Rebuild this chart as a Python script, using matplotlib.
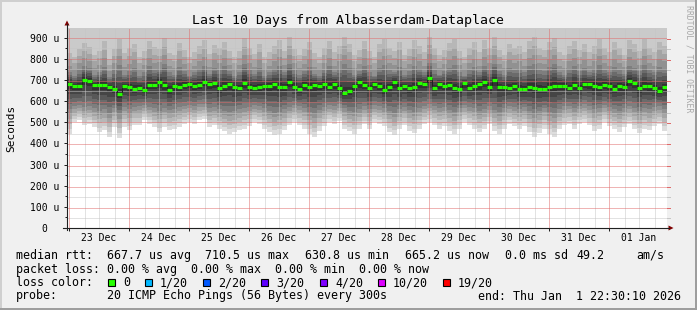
import numpy as np
import matplotlib
matplotlib.use('Agg')
import matplotlib.pyplot as plt
from matplotlib.patches import Rectangle, Polygon

# ---------------------------- data ---------------------------- #
# one column every 2 hours, values in microseconds (u)

median = [680, 673, 670, 700, 695, 675, 677, 675, 668, 655, 631, 670, 665, 655, 662,
          650, 676, 678, 690, 675, 652, 670, 668, 675, 680, 672, 676, 690, 680, 685,
          660, 672, 680, 666, 663, 685, 665, 660, 664, 673, 673, 680, 668, 668, 688,
          668, 655, 676, 666, 675, 673, 680, 668, 680, 660, 640, 645, 670, 688, 678,
          660, 680, 670, 652, 665, 690, 660, 670, 660, 668, 685, 682, 710.5, 660, 680,
          673, 674, 660, 655, 683, 662, 670, 680, 690, 668, 700, 668, 664, 660, 672,
          658, 655, 665, 660, 658, 655, 668, 672, 672, 673, 660, 676, 660, 680, 680,
          672, 665, 675, 672, 655, 670, 668, 695, 685, 660, 672, 672, 663, 645, 665.2]

smoke_min = [445, 500, 508, 485, 492, 477, 453, 461, 429, 477, 425, 477, 461, 485, 485,
             508, 492, 477, 453, 477, 461, 469, 477, 492, 500, 492, 508, 516, 477, 485,
             470, 460, 445, 453, 461, 470, 480, 500, 492, 470, 455, 440, 445, 462, 485,
             500, 485, 470, 445, 430, 460, 480, 500, 490, 505, 470, 460, 445, 470, 490,
             470, 500, 492, 480, 455, 440, 470, 485, 460, 450, 470, 492, 500, 485, 470,
             480, 460, 445, 470, 500, 485, 470, 455, 470, 490, 460, 445, 470, 492, 480,
             470, 480, 455, 430, 450, 470, 445, 430, 470, 485, 490, 470, 492, 500, 485,
             460, 470, 500, 480, 470, 455, 475, 490, 470, 450, 470, 465, 480, 490, 460]

smoke_lo = [560, 575, 580, 570, 575, 565, 555, 560, 545, 565, 540, 570, 560, 572, 575,
            580, 572, 565, 555, 568, 558, 562, 570, 578, 582, 575, 585, 588, 565, 570,
            560, 555, 548, 552, 560, 565, 570, 580, 575, 565, 555, 545, 550, 560, 572,
            582, 575, 565, 550, 540, 558, 570, 580, 575, 585, 565, 555, 548, 562, 575,
            562, 580, 575, 568, 552, 545, 562, 572, 558, 550, 565, 578, 585, 575, 565,
            570, 558, 548, 565, 582, 572, 565, 552, 562, 575, 558, 548, 565, 578, 570,
            562, 570, 555, 540, 552, 565, 548, 540, 562, 575, 578, 565, 578, 585, 575,
            560, 565, 582, 570, 562, 555, 568, 578, 565, 552, 565, 560, 570, 575, 560]

smoke_hi = [735, 720, 745, 765, 755, 725, 735, 760, 715, 745, 770, 725, 740, 755, 720,
            735, 765, 745, 750, 775, 735, 725, 760, 740, 720, 735, 750, 765, 730, 755,
            745, 765, 740, 720, 735, 775, 745, 730, 755, 720, 735, 750, 765, 735, 775,
            745, 725, 740, 760, 730, 720, 745, 765, 735, 750, 775, 755, 725, 740, 765,
            735, 720, 755, 770, 745, 735, 760, 725, 740, 765, 750, 735, 780, 745, 725,
            740, 755, 770, 735, 720, 745, 760, 735, 765, 745, 775, 740, 725, 755, 745,
            750, 735, 765, 775, 745, 740, 760, 775, 735, 725, 750, 765, 740, 755, 735,
            750, 770, 745, 735, 760, 745, 730, 765, 755, 740, 770, 745, 735, 760, 750]

smoke_top = [840, 820, 860, 890, 870, 830, 850, 900, 810, 860, 910, 840, 865, 885, 820,
             850, 900, 870, 860, 915, 840, 830, 890, 855, 820, 845, 875, 905, 835, 880,
             865, 895, 850, 820, 850, 915, 865, 835, 885, 820, 845, 875, 905, 850, 920,
             860, 830, 860, 895, 840, 820, 865, 900, 845, 875, 920, 885, 830, 855, 900,
             850, 820, 885, 910, 865, 850, 895, 830, 860, 905, 875, 845, 920, 865, 830,
             855, 890, 910, 850, 820, 865, 895, 845, 905, 865, 920, 855, 830, 885, 865,
             875, 845, 900, 920, 865, 855, 895, 915, 845, 830, 875, 900, 855, 885, 845,
             875, 910, 865, 845, 895, 865, 830, 905, 885, 850, 910, 865, 845, 895, 875]

day_labels = ['23 Dec', '24 Dec', '25 Dec', '26 Dec', '27 Dec',
              '28 Dec', '29 Dec', '30 Dec', '31 Dec', '01 Jan']
y_ticks = [0, 100, 200, 300, 400, 500, 600, 700, 800, 900]
y_labels = ['0  ', '100 u', '200 u', '300 u', '400 u',
            '500 u', '600 u', '700 u', '800 u', '900 u']

loss_labels = ['0', '1/20', '2/20', '3/20', '4/20', '10/20', '19/20']
loss_colors = ['#26ff00', '#00b8ff', '#0059ff', '#5e00ff', '#7e00ff', '#dd00ff', '#ff0000']

# ---------------------------- style ---------------------------- #
W, H = 697, 310
MONO = 'DejaVu Sans Mono'
BACK = '#f0f0f0'
GRID = '#c6c6c6'
MGRID = '#e06a6a'
ARROW = '#7f0000'
YMAX = 945.0
HOURS = 240.0
MIDNIGHT0 = 0.6      # first midnight (23 Dec 00:00), hours from left edge
X0, X1, Y0, Y1 = 67, 667, 28, 228   # plot area in pixels (from top-left)

plt.rcParams['font.family'] = MONO

fig = plt.figure(figsize=(W / 100, H / 100), dpi=100)
fig.patch.set_facecolor(BACK)

ax = fig.add_axes([X0 / W, (H - Y1) / H, (X1 - X0) / W, (Y1 - Y0) / H])
ax.set_facecolor('white')
ax.set_xlim(0, HOURS)
ax.set_ylim(0, YMAX)
for s in ax.spines.values():
    s.set_visible(False)

ncol = len(median)
step = HOURS / ncol

# ---- smoke: grey shades by rank of the pings around the median ----
nrow = Y1 - Y0
yc = (np.arange(nrow) + 0.5) * YMAX / nrow
img = np.ones((nrow, ncol, 3))
for k in range(ncol):
    anchors = [smoke_min[k], smoke_lo[k], median[k], smoke_hi[k], smoke_top[k]]
    r = np.interp(yc, anchors, [0.0, 0.25, 0.5, 0.75, 0.92])
    band = np.minimum(np.floor(np.minimum(r, 1 - r) * 20) + 1, 10)
    grey = (np.floor(190 / 10 * (10 - band)) + 50) / 255.0
    grey[yc < smoke_min[k]] = 1.0
    img[:, k, :] = grey[:, None]
ax.imshow(img, extent=(0, HOURS, 0, YMAX), origin='lower', aspect='auto',
          interpolation='nearest', zorder=1)


# ---- dotted grid, snapped to pixel centres ----
def snap_y(v):
    row = round(Y1 - v * (Y1 - Y0) / YMAX)
    return (Y1 - (row + 0.5)) * YMAX / (Y1 - Y0)


def snap_x(h):
    col = round(X0 + h * (X1 - X0) / HOURS)
    return (col + 0.5 - X0) * HOURS / (X1 - X0)


for v in range(50, 950, 50):
    major = v % 100 == 0
    ax.axhline(snap_y(v), color=MGRID if major else GRID, lw=0.72, dashes=(1, 1),
               zorder=2.5 if major else 2)
for j in range(40):
    major = j % 4 == 0
    ax.axvline(snap_x(MIDNIGHT0 + 6 * j), color=MGRID if major else GRID, lw=0.72,
               dashes=(1, 1), zorder=2.5 if major else 2)

# ---- median line ----
x_edges = np.arange(ncol + 1) * step
ax.step(x_edges, np.append(median, median[-1]), where='post',
        color='#202020', lw=0.72, zorder=3)
ax.hlines(median, x_edges[:-1], x_edges[1:], colors=loss_colors[0],
          lw=2.3, zorder=4)

# ---- ticks ----
ax.set_yticks(y_ticks, labels=y_labels)
ax.set_yticks(np.arange(50, 950, 100), minor=True)
ax.tick_params(axis='y', which='major', direction='out', length=2.2, width=0.72,
               color='#202020', pad=3.2, labelsize=7)
ax.tick_params(axis='y', which='minor', direction='out', length=1.2, width=0.72,
               color='#202020')

ax.set_xticks([MIDNIGHT0 + 24 * i for i in range(10)], labels=[''] * 10)
ax.set_xticks([MIDNIGHT0 + 12 + 24 * i for i in range(10)], labels=day_labels,
              minor=True)
ax.tick_params(axis='x', which='major', direction='out', length=2.2, width=0.72,
               color='#202020')
ax.tick_params(axis='x', which='minor', length=0, pad=3.6, labelsize=7)

# ---- overlay in pixel coordinates for frame, arrows and legend ----
ov = fig.add_axes([0, 0, 1, 1], zorder=5)
ov.set_xlim(0, W)
ov.set_ylim(H, 0)
ov.axis('off')
ov.patch.set_visible(False)

ov.add_patch(Rectangle((0, 0), W, 2, color='#cfcfcf', lw=0))
ov.add_patch(Rectangle((0, 0), 2, H, color='#cfcfcf', lw=0))
ov.add_patch(Rectangle((0, H - 2), W, 2, color='#9e9e9e', lw=0))
ov.add_patch(Rectangle((W - 2, 0), 2, H, color='#9e9e9e', lw=0))

# axes with arrows
ov.plot([67, 67], [230, 24], color='#202020', lw=0.8)
ov.plot([63, 669], [228, 228], color='#202020', lw=0.8)
ov.add_patch(Polygon([(64.5, 25.5), (69.5, 25.5), (67, 20.5)], closed=True,
                     color=ARROW, lw=0))
ov.add_patch(Polygon([(668.5, 225.5), (668.5, 230.5), (673.5, 228)], closed=True,
                     color=ARROW, lw=0))

# small marks right of the canvas
for v in range(50, 950, 50):
    yp = round(Y1 - v * (Y1 - Y0) / YMAX) + 0.5
    ov.plot([667, 669.5], [yp, yp], color=MGRID if v % 100 == 0 else GRID, lw=0.72)

ov.text(348, 24, 'Last 10 Days from Albasserdam-Dataplace', ha='center',
        va='baseline', fontsize=9.5)
ov.text(11, 128, 'Seconds', rotation=90, ha='center', va='center', fontsize=8)
ov.text(688.5, 5, 'RRDTOOL / TOBI OETIKER', rotation=-90, ha='center', va='top',
        fontsize=5.9, color='#a8a8a8')

# legend
fs = 8.37
row1 = [(16, 'median rtt:'), (107, '667.7 us avg'), (205, '710.5 us max'),
        (305, '630.8 us min'), (405, '665.2 us now'), (505, '0.0 ms sd'),
        (576, '49.2'), (636, 'am/s')]
for x, s in row1:
    ov.text(x, 259, s, fontsize=fs, va='baseline')

ov.text(16, 272.5, 'packet loss: 0.00 % avg  0.00 % max  0.00 % min  0.00 % now',
        fontsize=fs, va='baseline')

ov.text(16, 286, 'loss color:', fontsize=fs, va='baseline')
box_x = [108, 145, 203, 261, 320, 378, 443]
for bx, lab, col in zip(box_x, loss_labels, loss_colors):
    ov.add_patch(Rectangle((bx, 278.5), 7, 7, facecolor=col, edgecolor='black', lw=0.8))
    ov.text(bx + 15, 286, lab, fontsize=fs, va='baseline')

ov.text(16, 299.5, 'probe:', fontsize=fs, va='baseline')
ov.text(107, 299.5, '20 ICMP Echo Pings (56 Bytes) every 300s', fontsize=fs,
        va='baseline')
ov.text(478, 299.5, 'end: Thu Jan  1 22:30:10 2026', fontsize=fs, va='baseline')

fig.savefig('out.png', dpi=100, facecolor=BACK)
